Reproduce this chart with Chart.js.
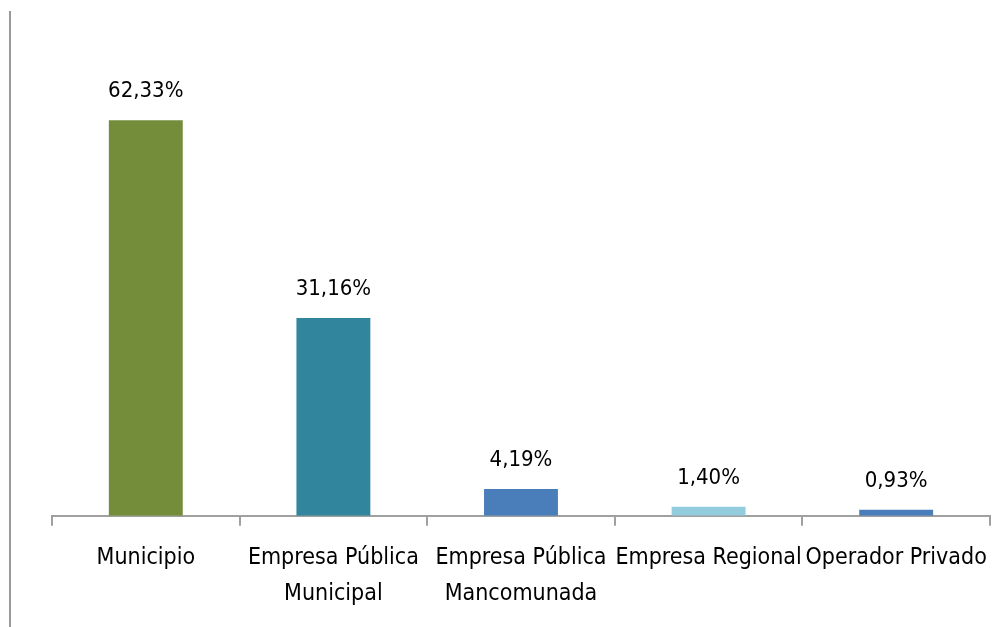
<!DOCTYPE html>
<html>
<head>
<meta charset="utf-8">
<script src="https://cdn.jsdelivr.net/npm/chart.js@4.4.0/dist/chart.umd.min.js"></script>
<style>
html,body{margin:0;padding:0;background:#fff;}
#wrap{position:relative;width:1003px;height:627px;}
</style>
</head>
<body>
<div id="wrap"><canvas id="c" width="1003" height="627"></canvas></div>
<script>
const categories = [
  "Municipio",
  ["Empresa Pública", "Municipal"],
  ["Empresa Pública", "Mancomunada"],
  "Empresa Regional",
  "Operador Privado"
];
const values = [62.33, 31.16, 4.19, 1.40, 0.93];
const valueLabels = ["62,33%", "31,16%", "4,19%", "1,40%", "0,93%"];
const barColors = ["#738d3a", "#31859c", "#4a7ebb", "#93cddd", "#4a7ebb"];

const FONT = "'Liberation Sans Narrow', 'DejaVu Sans Condensed', 'Open Sans', sans-serif";

const valueLabelPlugin = {
  id: 'valueLabels',
  afterDatasetsDraw(chart) {
    const ctx = chart.ctx;
    const meta = chart.getDatasetMeta(0);
    ctx.save();
    ctx.fillStyle = '#000';
    ctx.font = '22px ' + FONT;
    ctx.textAlign = 'center';
    ctx.textBaseline = 'bottom';
    meta.data.forEach((bar, i) => {
      ctx.fillText(valueLabels[i], bar.x, bar.y - 18);
    });
    ctx.restore();
  }
};

const frameLine = {
  id: 'frameLine',
  beforeDraw(chart) {
    const ctx = chart.ctx;
    ctx.save();
    ctx.strokeStyle = '#9a9a9a';
    ctx.lineWidth = 2;
    ctx.beginPath();
    ctx.moveTo(10, 11);
    ctx.lineTo(10, 627);
    ctx.stroke();
    ctx.restore();
  }
};

new Chart(document.getElementById('c'), {
  type: 'bar',
  data: {
    labels: categories,
    datasets: [{
      data: values,
      backgroundColor: barColors,
      borderWidth: 0,
      categoryPercentage: 1.0,
      barPercentage: 0.394
    }]
  },
  options: {
    responsive: false,
    animation: false,
    layout: { padding: { left: 52, right: 12, top: 8, bottom: 0 } },
    plugins: { legend: { display: false }, tooltip: { enabled: false } },
    scales: {
      y: { display: false, min: 0, max: 80 },
      x: {
        offset: true,
        border: { display: true, color: '#a0a0a0', width: 2 },
        grid: { display: true, offset: true, drawOnChartArea: false, drawTicks: true, tickLength: 10, color: '#a0a0a0', lineWidth: 2 },
        ticks: { color: '#000', font: { family: FONT, size: 23, lineHeight: 1.55 }, padding: 15, maxRotation: 0, autoSkip: false }
      }
    }
  },
  plugins: [valueLabelPlugin, frameLine]
});
</script>
</body>
</html>
